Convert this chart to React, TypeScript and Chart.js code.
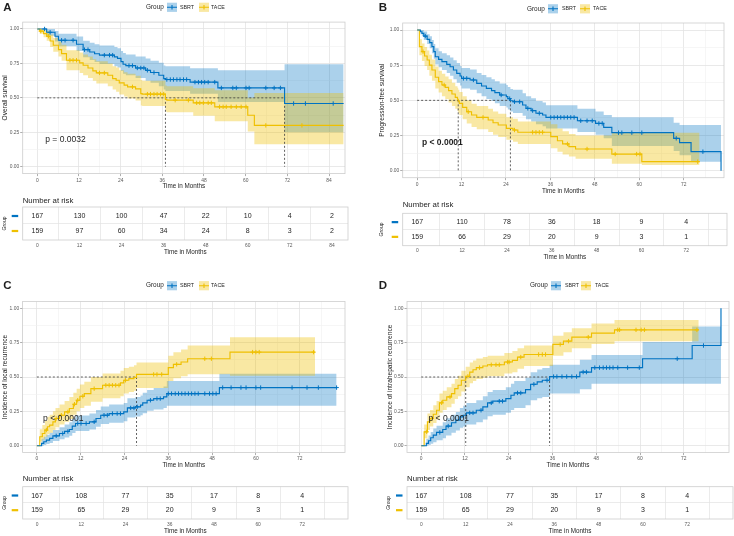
import React, { useEffect, useRef } from "react";
import { Chart, registerables } from "chart.js";

Chart.register(...registerables);

/* ============================ DATA ============================ */
const GROUPS = ["SBRT", "TACE"];
const X_TICKS_A = [0, 12, 24, 36, 48, 60, 72, 84];
const X_TICKS_BCD = [0, 12, 24, 36, 48, 60, 72];
const Y_TICKS = [0, 0.25, 0.5, 0.75, 1];
const Y_TITLES = [
  "Overall survival",
  "Progression-free survival",
  "Incidence of local recurrence",
  "Incidence of intrahepatic recurrence",
];
const X_TITLE = "Time in Months";
const P_VALUES = ["p = 0.0032", "p < 0.0001", "p < 0.0001", "p < 0.0001"];
const P_VALUE_X = [2.3, 1.3, 1.7, 2.0];
const P_VALUE_Y = 0.2;
const MEDIAN_LEVEL = 0.5;

// ---- Panel A: overall survival ----
const A_SBRT_T = [0, 2.7, 5.1, 6.1, 11.3, 13.2, 15.1, 16.5, 17.9, 22.2, 23.1, 24.1, 24.7, 25.5, 28.3, 31.2, 32.6, 35.0, 36.4, 36.9, 44.0, 52.0, 71.2];
const A_SBRT_S = [1, 0.976, 0.947, 0.918, 0.889, 0.85, 0.833, 0.82, 0.81, 0.797, 0.787, 0.763, 0.744, 0.734, 0.717, 0.70, 0.684, 0.664, 0.64, 0.633, 0.614, 0.572, 0.459];
const A_SBRT_HI = [1, 1, 0.985, 0.965, 0.945, 0.915, 0.90, 0.89, 0.88, 0.87, 0.86, 0.84, 0.825, 0.815, 0.80, 0.785, 0.77, 0.755, 0.735, 0.73, 0.715, 0.70, 0.744];
const A_SBRT_LO = [1, 0.95, 0.91, 0.875, 0.84, 0.795, 0.775, 0.76, 0.745, 0.73, 0.72, 0.695, 0.675, 0.665, 0.645, 0.625, 0.61, 0.585, 0.56, 0.55, 0.53, 0.47, 0.25];
const A_SBRT_CENS = [2.1, 3.7, 7.0, 8.0, 10.3, 13.6, 14.6, 19.3, 20.8, 21.7, 26.4, 27.4, 28.8, 29.8, 30.7, 31.7, 33.6, 37.3, 38.3, 39.2, 40.2, 41.1, 42.1, 43.0, 45.4, 46.4, 47.3, 48.2, 49.2, 51.1, 53.0, 56.3, 57.3, 60.1, 61.0, 65.8, 68.2, 70.0, 73.8, 77.2, 85.2];
const A_SBRT_END = 88.2;
const A_TACE_T = [0, 0.7, 1.8, 2.7, 3.7, 4.6, 6.1, 7.0, 8.4, 12.2, 13.2, 14.6, 16.0, 17.0, 20.3, 21.7, 22.7, 23.6, 25.0, 26.0, 28.3, 29.8, 30.2, 36.9, 37.3, 44.9, 51.1, 60.6, 62.5];
const A_TACE_S = [1, 0.985, 0.966, 0.947, 0.913, 0.882, 0.85, 0.821, 0.773, 0.754, 0.737, 0.717, 0.696, 0.681, 0.664, 0.64, 0.628, 0.609, 0.592, 0.58, 0.565, 0.531, 0.527, 0.488, 0.483, 0.464, 0.435, 0.374, 0.30];
const A_TACE_HI = [1, 1, 0.995, 0.985, 0.96, 0.935, 0.91, 0.885, 0.845, 0.83, 0.815, 0.80, 0.78, 0.765, 0.75, 0.73, 0.72, 0.70, 0.685, 0.675, 0.66, 0.63, 0.625, 0.59, 0.585, 0.57, 0.556, 0.50, 0.536];
const A_TACE_LO = [1, 0.965, 0.94, 0.915, 0.87, 0.835, 0.80, 0.77, 0.70, 0.68, 0.665, 0.645, 0.625, 0.605, 0.585, 0.56, 0.545, 0.525, 0.51, 0.495, 0.48, 0.445, 0.44, 0.40, 0.395, 0.37, 0.33, 0.255, 0.164];
const A_TACE_CENS = [1.0, 3.2, 9.4, 10.3, 11.3, 17.9, 19.3, 27.4, 31.7, 32.6, 33.6, 34.5, 35.5, 36.4, 39.7, 43.5, 45.9, 46.8, 47.8, 49.2, 50.1, 52.5, 53.5, 54.4, 55.8, 57.3, 58.7, 60.1, 65.8, 76.2];
const A_TACE_END = 88.2;
const A_RISK_SBRT = [167, 130, 100, 47, 22, 10, 4, 2];
const A_RISK_TACE = [159, 97, 60, 34, 24, 8, 3, 2];

// ---- Panel B: progression-free survival ----
const B_SBRT_T = [0, 0.9, 1.3, 1.8, 2.7, 3.4, 4.0, 4.5, 4.9, 5.8, 6.7, 8.0, 8.9, 9.8, 10.7, 11.6, 12.0, 14.3, 16.1, 17.4, 18.7, 20.1, 21.0, 22.3, 24.1, 24.5, 25.2, 25.9, 28.5, 29.4, 30.8, 32.1, 33.9, 34.8, 43.3, 48.2, 50.4, 52.6, 69.3, 70.9, 74.0, 82.1];
const B_SBRT_S = [1, 0.988, 0.976, 0.957, 0.934, 0.91, 0.882, 0.846, 0.81, 0.791, 0.775, 0.756, 0.739, 0.716, 0.692, 0.673, 0.656, 0.645, 0.621, 0.602, 0.585, 0.569, 0.555, 0.538, 0.526, 0.512, 0.497, 0.49, 0.467, 0.443, 0.427, 0.408, 0.396, 0.379, 0.355, 0.336, 0.308, 0.27, 0.23, 0.199, 0.135, 0];
const B_SBRT_HI = [1, 1, 1, 0.99, 0.97, 0.955, 0.93, 0.9, 0.87, 0.85, 0.835, 0.82, 0.805, 0.785, 0.765, 0.745, 0.73, 0.72, 0.695, 0.68, 0.665, 0.65, 0.635, 0.62, 0.61, 0.595, 0.58, 0.575, 0.55, 0.53, 0.515, 0.495, 0.485, 0.465, 0.44, 0.42, 0.395, 0.38, 0.34, 0.325, 0.325, 0.325];
const B_SBRT_LO = [1, 0.97, 0.955, 0.93, 0.90, 0.87, 0.835, 0.795, 0.755, 0.735, 0.715, 0.695, 0.675, 0.65, 0.625, 0.605, 0.585, 0.575, 0.55, 0.53, 0.51, 0.495, 0.48, 0.46, 0.45, 0.435, 0.42, 0.41, 0.39, 0.365, 0.35, 0.33, 0.315, 0.3, 0.275, 0.255, 0.23, 0.175, 0.14, 0.11, 0.064, 0.064];
const B_SBRT_CENS = [2.2, 12.5, 13.4, 15.2, 22.7, 25.0, 26.3, 27.7, 29.9, 31.2, 33.0, 36.1, 37.0, 37.9, 38.8, 39.7, 40.6, 41.5, 42.4, 44.2, 45.9, 47.3, 49.1, 50.0, 54.4, 55.3, 58.0, 60.7, 70.0, 77.2];
const B_SBRT_END = 82.1;
const B_TACE_T = [0, 0.6, 1.3, 2.0, 2.7, 3.3, 4.0, 4.9, 5.8, 6.7, 7.6, 8.5, 9.4, 10.3, 10.9, 11.1, 11.4, 12.3, 13.4, 14.7, 16.1, 19.2, 20.5, 21.9, 24.1, 25.9, 27.2, 36.1, 37.9, 39.3, 41.0, 42.8, 52.6, 60.7];
const B_TACE_S = [1, 0.882, 0.846, 0.815, 0.787, 0.751, 0.716, 0.664, 0.633, 0.609, 0.592, 0.569, 0.545, 0.521, 0.508, 0.495, 0.479, 0.45, 0.419, 0.396, 0.379, 0.36, 0.341, 0.325, 0.301, 0.289, 0.273, 0.242, 0.213, 0.19, 0.171, 0.154, 0.118, 0.064];
const B_TACE_HI = [1, 0.935, 0.905, 0.88, 0.855, 0.825, 0.79, 0.74, 0.71, 0.69, 0.67, 0.65, 0.625, 0.60, 0.59, 0.575, 0.56, 0.53, 0.50, 0.475, 0.46, 0.44, 0.42, 0.405, 0.38, 0.37, 0.35, 0.33, 0.30, 0.28, 0.26, 0.25, 0.27, 0.27];
const B_TACE_LO = [1, 0.82, 0.78, 0.745, 0.715, 0.675, 0.64, 0.585, 0.555, 0.53, 0.51, 0.485, 0.46, 0.44, 0.425, 0.41, 0.395, 0.365, 0.335, 0.31, 0.295, 0.275, 0.255, 0.24, 0.22, 0.205, 0.19, 0.16, 0.135, 0.115, 0.1, 0.085, 0.05, 0.04];
const B_TACE_CENS = [1.6, 7.3, 13.8, 17.8, 26.3, 31.2, 32.1, 33.0, 33.9, 40.6, 45.9, 53.5, 59.3, 60.2, 75.8];
const B_TACE_END = 76.3;
const B_RISK_SBRT = [167, 110, 78, 36, 18, 9, 4];
const B_RISK_TACE = [159, 66, 29, 20, 9, 3, 1];

// ---- Panel C: incidence of local recurrence ----
const C_SBRT_T = [0, 1.3, 1.9, 2.6, 3.5, 4.4, 6.2, 7.6, 8.9, 9.7, 10.6, 14.4, 16.2, 17.5, 19.8, 23.8, 24.8, 27.0, 28.4, 29.0, 30.2, 32.0, 34.7, 35.6, 50.0];
const C_SBRT_S = [0, 0.017, 0.029, 0.041, 0.053, 0.072, 0.089, 0.104, 0.118, 0.143, 0.162, 0.174, 0.198, 0.222, 0.234, 0.246, 0.275, 0.283, 0.295, 0.312, 0.331, 0.343, 0.355, 0.379, 0.423];
const C_SBRT_HI = [0, 0.05, 0.065, 0.08, 0.095, 0.115, 0.135, 0.155, 0.17, 0.2, 0.22, 0.235, 0.26, 0.285, 0.3, 0.31, 0.345, 0.355, 0.365, 0.385, 0.405, 0.42, 0.43, 0.47, 0.524];
const C_SBRT_LO = [0, 0, 0.005, 0.012, 0.02, 0.035, 0.048, 0.06, 0.072, 0.092, 0.108, 0.118, 0.138, 0.158, 0.168, 0.178, 0.205, 0.212, 0.222, 0.236, 0.254, 0.264, 0.275, 0.29, 0.29];
const C_SBRT_CENS = [5.3, 7.1, 8.5, 11.2, 12.1, 13.5, 15.7, 18.4, 19.3, 20.7, 22.0, 22.9, 25.7, 26.6, 27.5, 31.1, 32.9, 33.8, 36.0, 36.9, 37.9, 38.8, 39.7, 40.6, 41.5, 42.4, 43.3, 44.2, 46.0, 47.3, 48.2, 49.1, 50.9, 53.2, 55.9, 57.3, 60.0, 61.3, 69.9, 74.0, 77.1, 82.1];
const C_SBRT_END = 82.1;
const C_TACE_T = [0, 0.8, 1.5, 2.2, 2.9, 3.5, 4.4, 5.1, 6.2, 7.6, 8.9, 10.0, 10.9, 11.8, 13.0, 14.8, 18.0, 22.9, 23.8, 25.2, 26.6, 27.3, 36.0, 37.4, 39.5, 41.3, 52.9];
const C_TACE_S = [0, 0.065, 0.089, 0.114, 0.138, 0.15, 0.174, 0.198, 0.222, 0.246, 0.271, 0.302, 0.331, 0.36, 0.379, 0.415, 0.44, 0.457, 0.476, 0.488, 0.497, 0.519, 0.568, 0.592, 0.609, 0.633, 0.681];
const C_TACE_HI = [0, 0.12, 0.15, 0.18, 0.21, 0.225, 0.25, 0.275, 0.30, 0.325, 0.355, 0.385, 0.415, 0.445, 0.465, 0.50, 0.525, 0.545, 0.565, 0.575, 0.585, 0.605, 0.655, 0.68, 0.70, 0.73, 0.79];
const C_TACE_LO = [0, 0.03, 0.045, 0.065, 0.085, 0.095, 0.115, 0.135, 0.155, 0.175, 0.195, 0.225, 0.25, 0.275, 0.29, 0.32, 0.345, 0.36, 0.38, 0.39, 0.40, 0.42, 0.47, 0.49, 0.505, 0.52, 0.51];
const C_TACE_CENS = [2.6, 5.3, 6.7, 8.5, 10.3, 11.2, 12.6, 15.7, 18.9, 19.8, 20.7, 21.6, 22.5, 24.3, 32.0, 32.9, 34.2, 38.3, 46.0, 47.8, 59.1, 60.0, 60.9, 75.8];
const C_TACE_END = 76.2;
const C_RISK_SBRT = [167, 108, 77, 35, 17, 8, 4];
const C_RISK_TACE = [159, 65, 29, 20, 9, 3, 1];

// ---- Panel D: incidence of intrahepatic recurrence ----
const D_SBRT_T = [0, 1.4, 2.0, 2.6, 3.3, 4.2, 5.9, 6.8, 8.3, 9.5, 10.6, 11.5, 12.4, 15.1, 16.9, 18.2, 19.6, 23.2, 24.6, 25.5, 28.6, 30.0, 31.8, 33.2, 35.2, 43.5, 46.7, 60.7, 74.3, 82.2];
const D_SBRT_S = [0, 0.017, 0.036, 0.058, 0.077, 0.097, 0.118, 0.143, 0.167, 0.186, 0.21, 0.222, 0.239, 0.258, 0.283, 0.312, 0.324, 0.343, 0.367, 0.384, 0.408, 0.447, 0.464, 0.476, 0.503, 0.536, 0.568, 0.633, 0.729, 1.0];
const D_SBRT_HI = [0, 0.05, 0.075, 0.1, 0.125, 0.145, 0.17, 0.2, 0.225, 0.245, 0.275, 0.29, 0.31, 0.33, 0.36, 0.39, 0.405, 0.425, 0.45, 0.47, 0.495, 0.535, 0.555, 0.565, 0.59, 0.625, 0.66, 0.755, 0.867, 0.867];
const D_SBRT_LO = [0, 0, 0.005, 0.015, 0.025, 0.04, 0.055, 0.075, 0.095, 0.11, 0.13, 0.14, 0.155, 0.17, 0.19, 0.215, 0.225, 0.24, 0.26, 0.275, 0.295, 0.33, 0.345, 0.355, 0.38, 0.41, 0.45, 0.45, 0.45, 0.45];
const D_SBRT_CENS = [5.1, 7.4, 13.3, 14.2, 16.4, 19.2, 21.4, 22.3, 26.4, 27.3, 30.9, 34.5, 36.3, 37.2, 38.6, 39.9, 41.3, 42.6, 44.4, 45.3, 47.6, 48.9, 49.9, 50.8, 51.7, 52.6, 53.9, 56.6, 59.8, 70.2, 77.4];
const D_SBRT_END = 82.2;
const D_TACE_T = [0, 0.8, 1.7, 2.4, 3.3, 4.2, 5.0, 5.9, 7.0, 8.3, 9.2, 10.1, 11.0, 12.2, 13.3, 14.2, 15.1, 16.9, 18.2, 22.8, 25.0, 26.4, 28.2, 36.1, 39.0, 41.3, 46.7, 53.0];
const D_TACE_S = [0, 0.101, 0.174, 0.198, 0.229, 0.258, 0.312, 0.331, 0.355, 0.379, 0.415, 0.44, 0.476, 0.505, 0.536, 0.553, 0.568, 0.58, 0.589, 0.609, 0.621, 0.645, 0.664, 0.737, 0.761, 0.79, 0.819, 0.843];
const D_TACE_HI = [0, 0.155, 0.235, 0.26, 0.295, 0.325, 0.38, 0.4, 0.425, 0.45, 0.485, 0.51, 0.545, 0.575, 0.605, 0.62, 0.635, 0.645, 0.655, 0.675, 0.69, 0.71, 0.73, 0.8, 0.825, 0.855, 0.89, 0.915];
const D_TACE_LO = [0, 0.055, 0.115, 0.14, 0.165, 0.19, 0.24, 0.26, 0.28, 0.305, 0.34, 0.36, 0.395, 0.425, 0.455, 0.47, 0.485, 0.495, 0.505, 0.525, 0.535, 0.56, 0.58, 0.655, 0.68, 0.71, 0.74, 0.76];
const D_TACE_CENS = [1.5, 2.9, 5.6, 7.9, 12.8, 16.0, 19.2, 20.5, 21.4, 23.7, 24.1, 27.3, 32.2, 33.2, 34.1, 38.1, 40.4, 45.8, 53.9, 54.4, 58.9, 60.3, 61.2, 75.6];
const D_TACE_END = 76.1;
const D_RISK_SBRT = [167, 108, 77, 35, 17, 8, 4];
const D_RISK_TACE = [159, 65, 29, 20, 9, 3, 1];

/* ============================ STYLE / LAYOUT ============================ */
const FONT = '"Liberation Sans", Arial, Helvetica, sans-serif';
const BLUE = "#0073C2";
const YELLOW = "#EFC000";
const BLUE_BAND = "rgba(0,115,194,0.33)";
const YELLOW_BAND = "rgba(239,192,0,0.36)";
const GRID_MAJOR = "#e3e3e3";
const GRID_MINOR = "#f0f0f0";
const FRAME = "#cdcdcd";
const TICK_MARK = "#9a9a9a";
const TICK_TEXT = "#5a5a5a";
const DARK = "#1e1e1e";
const TICK_PX = 4.9;
const TICK_LEN = 2.5;
const Y_TITLE_PX = 6.6;
const X_TITLE_PX = 6.3;

const LAYOUT = [
  {
    letter: [3.3, 7.8], legend: { y: 7.3, x: [146, 167, 180, 199, 211] },
    km: { l: 22.7, t: 22.1, r: 348, b: 173.6, yTitleX: 5, tickY: 180.6, xTitleY: 186.7 },
    tb: { l: 22.7, t: 207, r: 348, b: 240, groupX: 5, narY: 200.7, tickY: 245.7, xTitleY: 252.7 },
  },
  {
    letter: [378.7, 7.8], legend: { y: 8.8, x: [527, 548, 562, 580, 593] },
    km: { l: 402.7, t: 23, r: 727, b: 177.7, yTitleX: 382, tickY: 184.3, xTitleY: 191 },
    tb: { l: 402.7, t: 213.3, r: 727, b: 245.7, groupX: 382, narY: 205, tickY: 251, xTitleY: 257.7 },
  },
  {
    letter: [3.3, 285.8], legend: { y: 285.7, x: [146, 167, 180, 199, 211] },
    km: { l: 22.6, t: 301.4, r: 348, b: 452.6, yTitleX: 5, tickY: 458.3, xTitleY: 465.7 },
    tb: { l: 22.7, t: 486.7, r: 348, b: 519, groupX: 5, narY: 479.3, tickY: 525, xTitleY: 531.7 },
  },
  {
    letter: [378.7, 285.8], legend: { y: 285.7, x: [530, 551, 565, 581, 595] },
    km: { l: 407, t: 301.4, r: 733, b: 452.6, yTitleX: 389.7, tickY: 458.3, xTitleY: 465.7 },
    tb: { l: 407, t: 486.7, r: 733, b: 519, groupX: 388.7, narY: 479.3, tickY: 525, xTitleY: 531.7 },
  },
];

const PANELS = [
  {
    id: "A", rising: false, xMin: -4.2, xMax: 88.6, xTicks: X_TICKS_A,
    sbrt: { t: A_SBRT_T, s: A_SBRT_S, hi: A_SBRT_HI, lo: A_SBRT_LO, cens: A_SBRT_CENS, end: A_SBRT_END },
    tace: { t: A_TACE_T, s: A_TACE_S, hi: A_TACE_HI, lo: A_TACE_LO, cens: A_TACE_CENS, end: A_TACE_END },
    risk: [A_RISK_SBRT, A_RISK_TACE], bold: false,
  },
  {
    id: "B", rising: false, xMin: -3.9, xMax: 82.9, xTicks: X_TICKS_BCD,
    sbrt: { t: B_SBRT_T, s: B_SBRT_S, hi: B_SBRT_HI, lo: B_SBRT_LO, cens: B_SBRT_CENS, end: B_SBRT_END },
    tace: { t: B_TACE_T, s: B_TACE_S, hi: B_TACE_HI, lo: B_TACE_LO, cens: B_TACE_CENS, end: B_TACE_END },
    risk: [B_RISK_SBRT, B_RISK_TACE], bold: true,
  },
  {
    id: "C", rising: true, xMin: -3.9, xMax: 84.4, xTicks: X_TICKS_BCD,
    sbrt: { t: C_SBRT_T, s: C_SBRT_S, hi: C_SBRT_HI, lo: C_SBRT_LO, cens: C_SBRT_CENS, end: C_SBRT_END },
    tace: { t: C_TACE_T, s: C_TACE_S, hi: C_TACE_HI, lo: C_TACE_LO, cens: C_TACE_CENS, end: C_TACE_END },
    risk: [C_RISK_SBRT, C_RISK_TACE], bold: false,
  },
  {
    id: "D", rising: true, xMin: -3.9, xMax: 84.4, xTicks: X_TICKS_BCD,
    sbrt: { t: D_SBRT_T, s: D_SBRT_S, hi: D_SBRT_HI, lo: D_SBRT_LO, cens: D_SBRT_CENS, end: D_SBRT_END },
    tace: { t: D_TACE_T, s: D_TACE_S, hi: D_TACE_HI, lo: D_TACE_LO, cens: D_TACE_CENS, end: D_TACE_END },
    risk: [D_RISK_SBRT, D_RISK_TACE], bold: false,
  },
];

/* ============================ HELPERS ============================ */
function stepPts(t: number[], v: number[], end: number) {
  const pts: any[] = [];
  for (let i = 0; i < t.length; i++) {
    if (i > 0) pts.push({ x: t[i], y: v[i - 1] });
    pts.push({ x: t[i], y: v[i] });
  }
  if (end > t[t.length - 1]) pts.push({ x: end, y: v[v.length - 1] });
  return pts;
}
function valueAt(t: number[], v: number[], x: number) {
  let y = v[0];
  for (let i = 0; i < t.length; i++) if (t[i] <= x) y = v[i];
  return y;
}
function medianOf(t: number[], v: number[], rising: boolean) {
  for (let i = 0; i < t.length; i++) {
    if (rising ? v[i] >= MEDIAN_LEVEL : v[i] <= MEDIAN_LEVEL) return t[i];
  }
  return null;
}
function withMinor(majors: number[], min: number, max: number) {
  const step = majors[1] - majors[0];
  const all = [majors[0] - step / 2];
  majors.forEach((m) => { all.push(m); all.push(m + step / 2); });
  return all.filter((v) => v >= min && v <= max).sort((a, b) => a - b);
}
function isMajor(v: any, majors: number[]) {
  if (typeof v !== "number") return false;
  return majors.some((m) => Math.abs(m - v) < 1e-9);
}
function drawKey(ctx: any, x: number, cy: number, band: string, line: string) {
  ctx.fillStyle = band;
  ctx.fillRect(x, cy - 4.6, 10, 9.2);
  ctx.strokeStyle = line;
  ctx.lineWidth = 1.1;
  ctx.beginPath();
  ctx.moveTo(x, cy);
  ctx.lineTo(x + 10, cy);
  ctx.moveTo(x + 5, cy - 2.2);
  ctx.lineTo(x + 5, cy + 2.2);
  ctx.stroke();
}

/* ============================ KM CHART ============================ */
function KMChart({ p, idx }: any) {
  const ref = useRef<HTMLCanvasElement | null>(null);
  const lay = LAYOUT[idx];
  const k = lay.km;
  const left = Math.min(Math.floor(k.yTitleX - 5), Math.floor(lay.letter[0] - 1));
  const top = Math.min(Math.floor(k.t - 6), Math.floor(lay.letter[1] - 7), Math.floor(lay.legend.y - 6));
  const right = Math.min(734, Math.ceil(k.r + 1.5));
  const bottom = Math.ceil(k.xTitleY + 5);
  const W = right - left;
  const H = bottom - top;

  useEffect(() => {
    if (!ref.current) return;
    const xAll = withMinor(p.xTicks, p.xMin, p.xMax);
    const yAll = withMinor(Y_TICKS, -0.05, 1.05);
    const sb = p.sbrt;
    const ta = p.tace;

    const meds = [medianOf(sb.t, sb.s, p.rising), medianOf(ta.t, ta.s, p.rising)].filter((m) => m !== null) as number[];
    const medPts: any[] = [];
    if (meds.length) {
      const mMax = Math.max(...meds);
      medPts.push({ x: 0, y: MEDIAN_LEVEL }, { x: mMax, y: MEDIAN_LEVEL });
      meds.forEach((m) => medPts.push({ x: m, y: null }, { x: m, y: MEDIAN_LEVEL }, { x: m, y: 0 }));
    }

    const cens = (c: any, color: string) => ({
      data: c.cens.map((t: number) => ({ x: t, y: valueAt(c.t, c.s, t) })),
      showLine: false, pointStyle: "cross", pointRadius: 2.2, pointBorderWidth: 1,
      pointBorderColor: color, pointBackgroundColor: color, borderColor: color,
    });
    const line = (c: any, color: string) => ({
      data: stepPts(c.t, c.s, c.end), borderColor: color, borderWidth: 1.15,
      pointRadius: 0, fill: false, tension: 0,
    });
    const bandHi = (c: any, color: string) => ({
      data: stepPts(c.t, c.hi, c.end), borderWidth: 0, borderColor: "transparent",
      backgroundColor: color, pointRadius: 0, fill: "+1", tension: 0,
    });
    const bandLo = (c: any) => ({
      data: stepPts(c.t, c.lo, c.end), borderWidth: 0, borderColor: "transparent",
      pointRadius: 0, fill: false, tension: 0,
    });

    const datasets: any[] = [
      cens(sb, BLUE),
      cens(ta, YELLOW),
      line(sb, BLUE),
      line(ta, YELLOW),
      { data: medPts, borderColor: "#3a3a3a", borderWidth: 0.8, borderDash: [2, 2], pointRadius: 0, spanGaps: false, fill: false },
      bandHi(ta, YELLOW_BAND),
      bandLo(ta),
      bandHi(sb, BLUE_BAND),
      bandLo(sb),
    ];

    const yTitlePad = Math.max(0, k.yTitleX - left - (Y_TITLE_PX * 1.2) / 2);
    const xTitlePad = Math.max(0, bottom - k.xTitleY - (X_TITLE_PX * 1.2) / 2);
    const xTickPad = Math.max(0, k.tickY - k.b - TICK_LEN - (TICK_PX * 1.2) / 2);

    const extras = {
      id: "kmExtras" + p.id,
      afterDraw(chart: any) {
        const { ctx, chartArea: a, scales } = chart;
        ctx.save();
        ctx.strokeStyle = FRAME;
        ctx.lineWidth = 0.8;
        ctx.strokeRect(a.left, a.top, a.right - a.left, a.bottom - a.top);
        ctx.fillStyle = DARK;
        ctx.textAlign = "left";
        ctx.textBaseline = "middle";
        ctx.font = `${p.bold ? "bold " : ""}8.5px ${FONT}`;
        ctx.fillText(P_VALUES[idx], scales.x.getPixelForValue(P_VALUE_X[idx]), scales.y.getPixelForValue(P_VALUE_Y));
        ctx.font = `bold 11.5px ${FONT}`;
        ctx.fillText(p.id, lay.letter[0] - left, lay.letter[1] - top);
        const lg = lay.legend;
        const cy = lg.y - top;
        ctx.font = `6.4px ${FONT}`;
        ctx.fillStyle = DARK;
        ctx.fillText("Group", lg.x[0] - left, cy);
        drawKey(ctx, lg.x[1] - left, cy, BLUE_BAND, BLUE);
        drawKey(ctx, lg.x[3] - left, cy, YELLOW_BAND, YELLOW);
        ctx.font = `5.3px ${FONT}`;
        ctx.fillStyle = DARK;
        ctx.fillText(GROUPS[0], lg.x[2] - left, cy);
        ctx.fillText(GROUPS[1], lg.x[4] - left, cy);
        ctx.restore();
      },
    };

    const chart = new Chart(ref.current, {
      type: "line",
      data: { datasets },
      options: {
        animation: false,
        responsive: false,
        events: [],
        layout: { padding: { left: 0, top: k.t - top, right: right - k.r, bottom: 0 } },
        plugins: { legend: { display: false }, tooltip: { enabled: false } },
        scales: {
          x: {
            type: "linear", min: p.xMin, max: p.xMax, bounds: "data",
            afterBuildTicks: (sc: any) => { sc.ticks = xAll.map((v) => ({ value: v })); },
            afterFit: (sc: any) => { sc.height = bottom - k.b; },
            grid: {
              color: (c: any) => (isMajor(c.tick && c.tick.value, p.xTicks) ? GRID_MAJOR : GRID_MINOR),
              lineWidth: (c: any) => (isMajor(c.tick && c.tick.value, p.xTicks) ? 0.8 : 0.6),
              drawTicks: true, tickLength: TICK_LEN,
              tickColor: (c: any) => (isMajor(c.tick && c.tick.value, p.xTicks) ? TICK_MARK : "transparent"),
            },
            border: { display: false },
            ticks: {
              autoSkip: false, maxRotation: 0, minRotation: 0, padding: xTickPad,
              color: TICK_TEXT, font: { family: FONT, size: TICK_PX },
              callback: (v: any) => (isMajor(v, p.xTicks) ? String(v) : ""),
            },
            title: {
              display: true, text: X_TITLE, color: DARK,
              font: { family: FONT, size: X_TITLE_PX }, padding: { top: 0, bottom: xTitlePad },
            },
          },
          y: {
            type: "linear", min: -0.05, max: 1.05, bounds: "data",
            afterBuildTicks: (sc: any) => { sc.ticks = yAll.map((v) => ({ value: v })); },
            afterFit: (sc: any) => { sc.width = k.l - left; },
            grid: {
              color: (c: any) => (isMajor(c.tick && c.tick.value, Y_TICKS) ? GRID_MAJOR : GRID_MINOR),
              lineWidth: (c: any) => (isMajor(c.tick && c.tick.value, Y_TICKS) ? 0.8 : 0.6),
              drawTicks: true, tickLength: TICK_LEN,
              tickColor: (c: any) => (isMajor(c.tick && c.tick.value, Y_TICKS) ? TICK_MARK : "transparent"),
            },
            border: { display: false },
            ticks: {
              autoSkip: false, padding: 1, color: TICK_TEXT, font: { family: FONT, size: TICK_PX },
              callback: (v: any) => (isMajor(v, Y_TICKS) ? Number(v).toFixed(2) : ""),
            },
            title: {
              display: true, text: Y_TITLES[idx], color: DARK,
              font: { family: FONT, size: Y_TITLE_PX }, padding: { top: yTitlePad, bottom: 0 },
            },
          },
        },
      } as any,
      plugins: [extras],
    } as any);
    return () => chart.destroy();
  }, []);

  return (
    <canvas ref={ref} width={W} height={H}
      style={{ position: "absolute", left, top, width: W, height: H }} />
  );
}

/* ============================ RISK TABLE ============================ */
function RiskTable({ p, idx }: any) {
  const ref = useRef<HTMLCanvasElement | null>(null);
  const tb = LAYOUT[idx].tb;
  const left = Math.floor(tb.groupX - 4);
  const top = Math.floor(tb.narY - 6);
  const right = Math.min(734, Math.ceil(tb.r + 1.5));
  const bottom = Math.ceil(tb.xTitleY + 5);
  const W = right - left;
  const H = bottom - top;

  useEffect(() => {
    if (!ref.current) return;
    const xAll = withMinor(p.xTicks, p.xMin, p.xMax);
    const xTitlePad = Math.max(0, bottom - tb.xTitleY - (X_TITLE_PX * 1.2) / 2);
    const xTickPad = Math.max(0, tb.tickY - tb.b - (TICK_PX * 1.2) / 2);
    const groupPad = Math.max(0, tb.groupX - left - (5 * 1.2) / 2);
    const colors = [BLUE, YELLOW];

    const extras = {
      id: "riskExtras" + p.id,
      afterDraw(chart: any) {
        const { ctx, chartArea: a, scales } = chart;
        ctx.save();
        ctx.strokeStyle = FRAME;
        ctx.lineWidth = 0.8;
        ctx.strokeRect(a.left, a.top, a.right - a.left, a.bottom - a.top);
        ctx.fillStyle = DARK;
        ctx.textAlign = "left";
        ctx.textBaseline = "middle";
        ctx.font = `7.8px ${FONT}`;
        ctx.fillText("Number at risk", a.left, tb.narY - top);
        ctx.font = `7px ${FONT}`;
        ctx.textAlign = "center";
        p.risk.forEach((row: number[], ri: number) => {
          const py = scales.y.getPixelForValue(ri + 1);
          ctx.fillStyle = DARK;
          row.forEach((n, i) => ctx.fillText(String(n), scales.x.getPixelForValue(p.xTicks[i]), py + 0.3));
          ctx.fillStyle = colors[ri];
          ctx.fillRect(a.left - 11, py - 1.1, 6.5, 2.2);
        });
        ctx.restore();
      },
    };

    const chart = new Chart(ref.current, {
      type: "line",
      data: { datasets: [] },
      options: {
        animation: false,
        responsive: false,
        events: [],
        layout: { padding: { left: 0, top: tb.t - top, right: right - tb.r, bottom: 0 } },
        plugins: { legend: { display: false }, tooltip: { enabled: false } },
        scales: {
          x: {
            type: "linear", min: p.xMin, max: p.xMax, bounds: "data",
            afterBuildTicks: (sc: any) => { sc.ticks = xAll.map((v) => ({ value: v })); },
            afterFit: (sc: any) => { sc.height = bottom - tb.b; },
            grid: {
              color: (c: any) => (isMajor(c.tick && c.tick.value, p.xTicks) ? "transparent" : GRID_MAJOR),
              lineWidth: 0.7, drawTicks: false,
            },
            border: { display: false },
            ticks: {
              autoSkip: false, maxRotation: 0, minRotation: 0, padding: xTickPad,
              color: TICK_TEXT, font: { family: FONT, size: TICK_PX },
              callback: (v: any) => (isMajor(v, p.xTicks) ? String(v) : ""),
            },
            title: {
              display: true, text: X_TITLE, color: DARK,
              font: { family: FONT, size: X_TITLE_PX }, padding: { top: 0, bottom: xTitlePad },
            },
          },
          y: {
            type: "linear", min: 0.4, max: 2.6, reverse: true, bounds: "data",
            afterBuildTicks: (sc: any) => { sc.ticks = [{ value: 1.5 }]; },
            afterFit: (sc: any) => { sc.width = tb.l - left; },
            grid: { color: GRID_MAJOR, lineWidth: 0.7, drawTicks: false },
            border: { display: false },
            ticks: { display: false },
            title: {
              display: true, text: "Group", color: DARK,
              font: { family: FONT, size: 5 }, padding: { top: groupPad, bottom: 0 },
            },
          },
        },
      } as any,
      plugins: [extras],
    } as any);
    return () => chart.destroy();
  }, []);

  return (
    <canvas ref={ref} width={W} height={H}
      style={{ position: "absolute", left, top, width: W, height: H }} />
  );
}

/* ============================ APP ============================ */
export default function App() {
  return (
    <div
      style={{
        position: "absolute", left: 0, top: 0, width: 734, height: 536,
        overflow: "hidden", background: "#ffffff", fontFamily: FONT,
      }}
    >
      {PANELS.map((p, i) => (
        <React.Fragment key={p.id}>
          <KMChart p={p} idx={i} />
          <RiskTable p={p} idx={i} />
        </React.Fragment>
      ))}
    </div>
  );
}
